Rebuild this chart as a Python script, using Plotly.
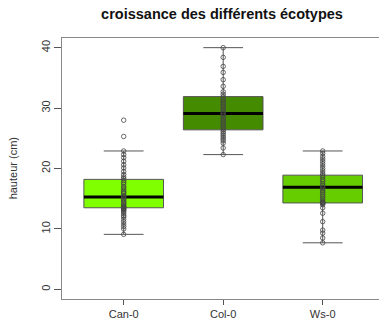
import plotly.graph_objects as go

# ---- data ----
categories = ["Can-0", "Col-0", "Ws-0"]
box_colors = ["#7FFF00", "#458B00", "#66CD00"]
q1 = [13.5, 26.4, 14.3]
medians = [15.3, 29.1, 16.9]
q3 = [18.2, 31.9, 18.9]
lower_whisker = [9.1, 22.3, 7.7]
upper_whisker = [22.9, 40.0, 22.9]

can0_points = [28.0, 25.3, 22.9, 22.3, 21.8, 21.2, 20.6, 20.1, 19.5, 19.0, 18.6, 18.3,
               18.0, 17.7, 17.4, 17.0, 16.8, 16.5, 16.2, 16.0, 15.8, 15.5, 15.3, 15.3,
               15.0, 14.8, 14.6, 14.4, 14.2, 14.0, 13.8, 13.7, 13.6, 13.5, 13.4, 13.3,
               13.2, 13.0, 12.8, 12.5, 12.2, 12.0, 11.6, 11.2, 10.8, 10.4, 10.0, 9.1]
col0_points = [40.0, 38.4, 36.9, 35.9, 34.7, 33.6, 32.7, 32.3, 31.9, 31.5, 31.2, 30.9,
               30.6, 30.3, 30.0, 29.7, 29.4, 29.1, 29.1, 28.8, 28.5, 28.2, 27.9, 27.6,
               27.3, 27.0, 26.7, 26.4, 26.1, 25.8, 25.5, 25.2, 24.9, 24.6, 24.2, 23.4, 22.3]
ws0_points = [22.9, 22.5, 22.0, 21.6, 21.2, 20.8, 20.4, 20.0, 19.6, 19.2, 18.9, 18.6,
              18.2, 17.9, 17.5, 17.2, 16.9, 16.9, 16.6, 16.3, 16.0, 15.7, 15.4, 15.1,
              14.8, 14.5, 14.4, 14.3, 14.3, 14.2, 14.0, 13.5, 12.6, 11.2, 9.8, 9.3, 8.5, 7.7]
points = [can0_points, col0_points, ws0_points]

y_ticks = [0, 10, 20, 30, 40]
title = "croissance des différents écotypes"
y_title = "hauteur (cm)"

FONT = "Liberation Sans, Arial, sans-serif"
BOX_W = 0.8

fig = go.Figure()
positions = list(range(1, len(categories) + 1))

for i, pos in enumerate(positions):
    fig.add_trace(go.Box(
        x=[pos], q1=[q1[i]], median=[medians[i]], q3=[q3[i]],
        lowerfence=[lower_whisker[i]], upperfence=[upper_whisker[i]],
        width=BOX_W, whiskerwidth=0.5, fillcolor=box_colors[i],
        line=dict(color="#555555", width=1), boxpoints=False,
        showlegend=False, hoverinfo="skip",
    ))

for i, pos in enumerate(positions):
    fig.add_trace(go.Scatter(
        x=[pos - BOX_W / 2, pos + BOX_W / 2], y=[medians[i], medians[i]],
        mode="lines", line=dict(color="black", width=3),
        showlegend=False, hoverinfo="skip",
    ))

for i, pos in enumerate(positions):
    fig.add_trace(go.Scatter(
        x=[pos] * len(points[i]), y=points[i], mode="markers",
        marker=dict(symbol="circle-open", size=4.5, color="#444444",
                    line=dict(width=0.8, color="#444444")),
        showlegend=False, hoverinfo="skip",
    ))

fig.add_annotation(
    text=y_title, xref="paper", yref="paper", x=-0.155, y=0.5,
    textangle=-90, showarrow=False, xanchor="center", yanchor="middle",
    font=dict(family=FONT, size=11, color="#333333"),
)

fig.update_layout(
    template="none",
    width=379, height=323,
    margin=dict(l=62, r=0, t=38, b=24, pad=0),
    paper_bgcolor="white", plot_bgcolor="white",
    boxmode="overlay",
    title=dict(text="<b>" + title + "</b>", xref="container", yref="container",
               x=222 / 379, y=1 - 14 / 323, xanchor="center", yanchor="middle",
               font=dict(family=FONT, size=14.5, color="#111111")),
    font=dict(family=FONT, size=11, color="#333333"),
    xaxis=dict(range=[0.38, 0.38 + 317 / 99.5], tickvals=positions, ticktext=categories,
               automargin=False,
               showgrid=False, zeroline=False, showline=True, mirror=True,
               linecolor="#888888", linewidth=1, ticks="outside", ticklen=5,
               tickcolor="#555555", tickfont=dict(size=11, color="#333333")),
    yaxis=dict(range=[-1.6, 41.6], tickvals=y_ticks, showgrid=False, zeroline=False,
               automargin=False,
               showline=True, linecolor="#888888", linewidth=1, ticks="outside",
               ticklen=7, tickcolor="#555555", tickangle=-90,
               tickfont=dict(size=11, color="#333333")),
)

fig.write_html("out.html", config={"displayModeBar": False},
               post_script="document.body.style.margin='0';document.body.style.padding='0';")
